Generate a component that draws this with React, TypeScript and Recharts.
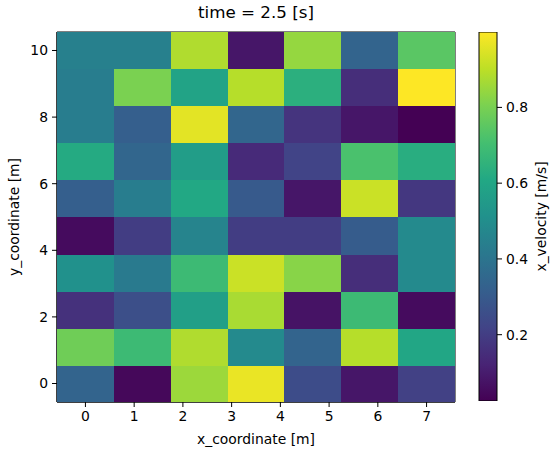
import React from "react";
import {
  ScatterChart,
  Scatter,
  XAxis,
  YAxis,
  ReferenceArea,
  BarChart,
  Bar,
  Label,
} from "recharts";

// grid coordinates (cell centres)
const xCoords = [0, 1.167, 2.333, 3.5, 4.667, 5.833, 7];
const yCoords = [0, 1.111, 2.222, 3.333, 4.444, 5.556, 6.667, 7.778, 8.889, 10];

// x_velocity per row, bottom (y=0) to top (y=10)
const row0 = [0.337, 0.044, 0.853, 0.97, 0.249, 0.083, 0.21];
const row1 = [0.785, 0.687, 0.882, 0.483, 0.337, 0.892, 0.6];
const row2 = [0.161, 0.259, 0.57, 0.872, 0.074, 0.687, 0.054];
const row3 = [0.512, 0.424, 0.687, 0.921, 0.824, 0.152, 0.483];
const row4 = [0.054, 0.2, 0.463, 0.2, 0.2, 0.307, 0.483];
const row5 = [0.317, 0.434, 0.609, 0.298, 0.083, 0.921, 0.181];
const row6 = [0.619, 0.346, 0.561, 0.142, 0.22, 0.717, 0.629];
const row7 = [0.434, 0.317, 0.96, 0.346, 0.171, 0.083, 0.025];
const row8 = [0.434, 0.804, 0.59, 0.892, 0.639, 0.152, 0.999];
const row9 = [0.444, 0.444, 0.882, 0.083, 0.843, 0.337, 0.746];
const rows = [row0, row1, row2, row3, row4, row5, row6, row7, row8, row9];

const xTicks = [0, 1, 2, 3, 4, 5, 6, 7];
const yTicks = [0, 2, 4, 6, 8, 10];
const cbTicks = [0.2, 0.4, 0.6, 0.8];

const VMIN = 0.025;
const VMAX = 0.999;

const VIRIDIS = [
  "#440154", "#482475", "#414487", "#355f8d", "#2a788e", "#21918c",
  "#22a884", "#44bf70", "#7ad151", "#bddf26", "#fde725",
];

const hex = (c: string) => [1, 3, 5].map((i) => parseInt(c.slice(i, i + 2), 16));

const viridis = (t: number) => {
  const s = Math.min(Math.max(t, 0), 1) * (VIRIDIS.length - 1);
  const i = Math.min(Math.floor(s), VIRIDIS.length - 2);
  const f = s - i;
  const a = hex(VIRIDIS[i]);
  const b = hex(VIRIDIS[i + 1]);
  const c = a.map((v, k) => Math.round(v + (b[k] - v) * f));
  return `rgb(${c[0]},${c[1]},${c[2]})`;
};

const dx = xCoords[1] - xCoords[0];
const dy = yCoords[1] - yCoords[0];
const xDomain = [xCoords[0] - dx / 2, xCoords[xCoords.length - 1] + dx / 2];
const yDomain = [yCoords[0] - dy / 2, yCoords[yCoords.length - 1] + dy / 2];

const cells = rows.flatMap((r, j) =>
  r.map((v, i) => ({ x: xCoords[i], y: yCoords[j], v }))
);

const W = 558;
const H = 455;
const M = { top: 32, right: 103, bottom: 0, left: 0 };
const Y_AXIS_W = 57;
const X_AXIS_H = 53;
const PLOT_W = W - M.left - M.right - Y_AXIS_W;
const PLOT_H = H - M.top - M.bottom - X_AXIS_H;
const cellW = (PLOT_W / (xDomain[1] - xDomain[0])) * dx;
const cellH = (PLOT_H / (yDomain[1] - yDomain[0])) * dy;

const FONT = "DejaVu Sans, sans-serif";
const tickStyle = { fontSize: 13.9, fill: "#000", fontFamily: FONT };

const HeatCell = (props: any) => {
  const { cx, cy, payload } = props;
  return (
    <rect
      x={cx - cellW / 2}
      y={cy - cellH / 2}
      width={cellW + 0.5}
      height={cellH + 0.5}
      fill={viridis((payload.v - VMIN) / (VMAX - VMIN))}
      shapeRendering="crispEdges"
    />
  );
};

const App = () => {
  return (
    <div style={{ position: "absolute", left: 0, top: 0, width: W, height: H, background: "#fff" }}>
      <div
        style={{
          position: "absolute",
          left: Y_AXIS_W,
          width: PLOT_W,
          top: 2,
          textAlign: "center",
          fontFamily: FONT,
          fontSize: 16.7,
          color: "#000",
        }}
      >
        time = 2.5 [s]
      </div>
      <div style={{ position: "absolute", left: 0, top: 0 }}>
        <ScatterChart width={W} height={H} margin={M}>
          <XAxis
            type="number"
            dataKey="x"
            domain={xDomain}
            ticks={xTicks}
            allowDataOverflow
            height={X_AXIS_H}
            tick={tickStyle}
            tickSize={5}
            tickMargin={4}
            stroke="#000"
            interval={0}
          >
            <Label
              content={({ viewBox }: any) => (
                <text
                  x={viewBox.x + viewBox.width / 2}
                  y={viewBox.y + 42}
                  textAnchor="middle"
                  fontSize={13.9}
                  fontFamily={FONT}
                  fill="#000"
                >
                  x_coordinate [m]
                </text>
              )}
            />
          </XAxis>
          <YAxis
            type="number"
            dataKey="y"
            domain={yDomain}
            ticks={yTicks}
            allowDataOverflow
            width={Y_AXIS_W}
            tick={tickStyle}
            tickSize={5}
            tickMargin={4}
            stroke="#000"
            interval={0}
          >
            <Label
              content={({ viewBox }: any) => {
                const x = viewBox.x + 14;
                const y = viewBox.y + viewBox.height / 2;
                return (
                  <text
                    x={x}
                    y={y}
                    transform={`rotate(-90 ${x} ${y})`}
                    textAnchor="middle"
                    dominantBaseline="central"
                    fontSize={13.9}
                    fontFamily={FONT}
                    fill="#000"
                  >
                    y_coordinate [m]
                  </text>
                );
              }}
            />
          </YAxis>
          <Scatter data={cells} shape={HeatCell} isAnimationActive={false} />
          <ReferenceArea
            x1={xDomain[0]}
            x2={xDomain[1]}
            y1={yDomain[0]}
            y2={yDomain[1]}
            fill="none"
            fillOpacity={0}
            stroke="#000"
            strokeWidth={1}
            ifOverflow="visible"
          />
        </ScatterChart>
      </div>
      <div style={{ position: "absolute", left: 0, top: 0 }}>
        <BarChart
          width={W}
          height={H}
          data={[{ name: "cb", range: [VMIN, VMAX] }]}
          margin={{ top: 32, right: 0, bottom: 54, left: 479 }}
          barCategoryGap={0}
        >
          <defs>
            <linearGradient id="cbGrad" x1="0" y1="1" x2="0" y2="0">
              {VIRIDIS.map((c, i) => (
                <stop key={i} offset={`${(i / (VIRIDIS.length - 1)) * 100}%`} stopColor={c} />
              ))}
            </linearGradient>
          </defs>
          <XAxis dataKey="name" hide />
          <YAxis
            orientation="right"
            type="number"
            domain={[VMIN, VMAX]}
            ticks={cbTicks}
            allowDataOverflow
            width={61}
            axisLine={false}
            tick={tickStyle}
            tickSize={5}
            tickMargin={4}
            stroke="#000"
            tickFormatter={(v: number) => v.toFixed(1)}
            interval={0}
          >
            <Label
              content={({ viewBox }: any) => {
                const x = viewBox.x + 44;
                const y = viewBox.y + viewBox.height / 2;
                return (
                  <text
                    x={x}
                    y={y}
                    transform={`rotate(-90 ${x} ${y})`}
                    textAnchor="middle"
                    dominantBaseline="central"
                    fontSize={13.9}
                    fontFamily={FONT}
                    fill="#000"
                  >
                    x_velocity [m/s]
                  </text>
                );
              }}
            />
          </YAxis>
          <Bar dataKey="range" fill="url(#cbGrad)" stroke="#000" strokeWidth={1} isAnimationActive={false} />
        </BarChart>
      </div>
    </div>
  );
};

export default App;
